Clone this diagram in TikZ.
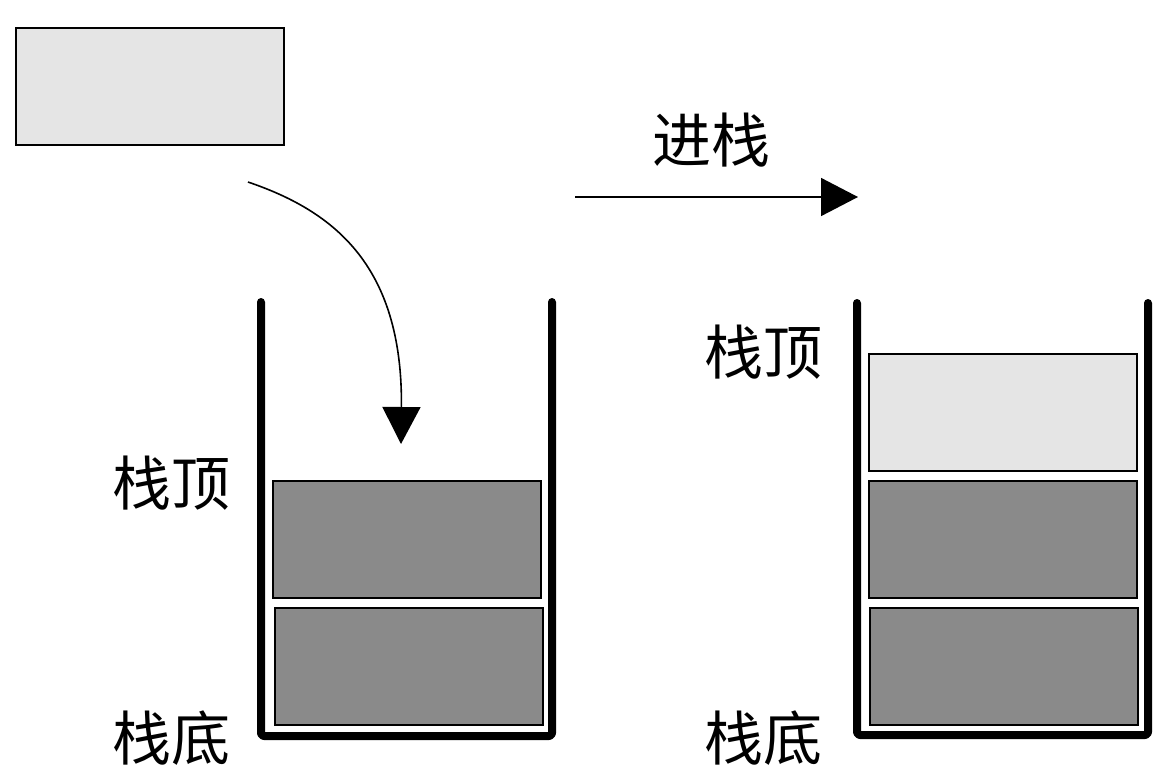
\documentclass[tikz,border=0pt]{standalone}
\usepackage{fontspec}
\newfontfamily\cjk{Noto Sans CJK SC}
\usetikzlibrary{arrows.meta}
\definecolor{lightblk}{HTML}{E5E5E5}
\definecolor{darkblk}{HTML}{8A8A8A}
\begin{document}
\begin{tikzpicture}[x=1pt,y=-1pt,
  blk/.style={draw=black,line width=1.6pt,minimum width=268pt,minimum height=117pt,inner sep=0pt,anchor=north west},
  lblk/.style={blk,fill=lightblk},
  dblk/.style={blk,fill=darkblk},
  wall/.style={line width=8pt,line cap=round,line join=round,rounded corners=3pt},
  lbl/.style={font=\cjk\fontsize{59}{64}\selectfont,inner sep=0pt},
  arr/.style={line width=1.6pt,-{Triangle[length=37pt,width=38pt]}}]
\useasboundingbox (0,0) rectangle (1170,780);
% incoming element
\node[lblk] (new) at (15,27) {};
% left stack
\draw[wall] (261,302) -- (261,736) -- (552,736) -- (552,302);
\node[dblk] (l1) at (272,480) {};
\node[dblk] (l2) at (274,607) {};
% right stack
\draw[wall] (857,303) -- (857,735) -- (1148,735) -- (1148,303);
\node[lblk] (r0) at (868,353) {};
\node[dblk] (r1) at (868,480) {};
\node[dblk] (r2) at (869,607) {};
% labels
\node[lbl] (ltop) at (171,483) {栈顶};
\node[lbl] (lbot) at (171,738) {栈底};
\node[lbl] (rtop) at (763,352) {栈顶};
\node[lbl] (rbot) at (763,738) {栈底};
\node[lbl] (push) at (711,140) {进栈};
% arrows
\coordinate (cs) at (248,182);
\coordinate (ce) at (401,444);
\draw[arr] (cs) .. controls (330,210) and (403,262) .. (ce);
\coordinate (hs) at (575,197);
\coordinate (he) at (858,197);
\draw[arr] (hs) -- (he);
\end{tikzpicture}
\end{document}
